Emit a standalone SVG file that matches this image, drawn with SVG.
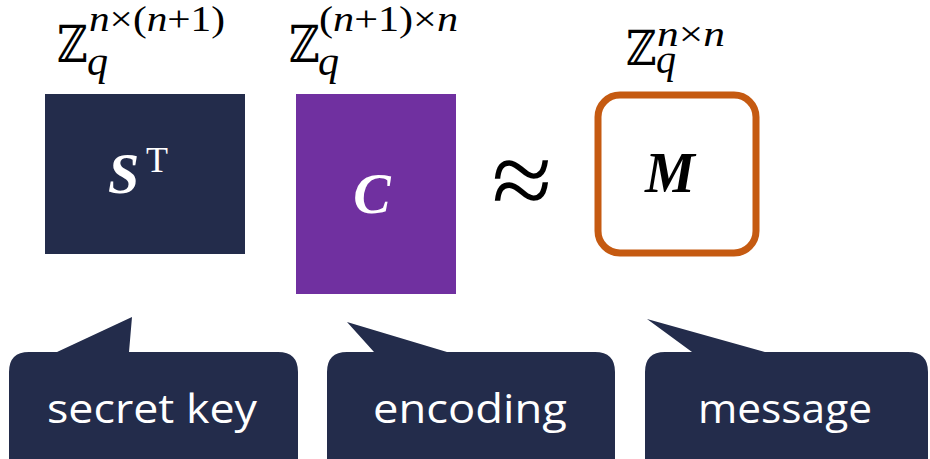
<svg xmlns="http://www.w3.org/2000/svg" width="930" height="459" viewBox="0 0 930 459">
<style>
.navy{fill:#232C4B}
.zz{font-family:"DejaVu Serif",serif;font-size:42px;fill:#000}
.mi{font-family:"Liberation Serif",serif;font-style:italic;fill:#000}
.mr{font-family:"Liberation Serif",serif;fill:#000}
.sup{font-size:35px}
.big{font-family:"Liberation Serif",serif;font-weight:bold;font-style:italic;font-size:56px}
.lbl{font-family:"Open Sans","Liberation Sans",sans-serif;font-size:41px;fill:#fff;text-anchor:middle}
</style>
<rect width="930" height="459" fill="#fff"/>
<g id="dim-s">
<text class="zz" transform="translate(57,62) scale(1,1.22)">ℤ</text>
<text class="mi" x="87" y="75" font-size="42">q</text>
<text class="sup" x="89" y="31" textLength="136" lengthAdjust="spacingAndGlyphs"><tspan class="mi">n</tspan><tspan class="mr">×(</tspan><tspan class="mi">n</tspan><tspan class="mr">+1)</tspan></text>
</g>
<g id="dim-c">
<text class="zz" transform="translate(289,62) scale(1,1.22)">ℤ</text>
<text class="mi" x="318" y="75" font-size="42">q</text>
<text class="sup" x="319" y="31" textLength="139" lengthAdjust="spacingAndGlyphs"><tspan class="mr">(</tspan><tspan class="mi">n</tspan><tspan class="mr">+1)×</tspan><tspan class="mi">n</tspan></text>
</g>
<g id="dim-m">
<text class="zz" transform="translate(626,65) scale(1,1.15)">ℤ</text>
<text class="mi" x="656" y="73" font-size="40">q</text>
<text class="sup" x="657" y="46" textLength="68" lengthAdjust="spacingAndGlyphs"><tspan class="mi">n</tspan><tspan class="mr">×</tspan><tspan class="mi">n</tspan></text>
</g>
<g id="node-s">
<rect class="navy" x="45" y="94" width="200" height="160"/>
<text class="big" x="108" y="193" fill="#fff">S</text>
<text x="146" y="172" font-family="Liberation Serif,serif" font-size="36" fill="#fff">T</text>
</g>
<g id="node-c">
<rect x="296" y="94" width="160" height="200" fill="#7030A0"/>
<text class="big" x="372" y="213" fill="#fff" text-anchor="middle">C</text>
</g>
<g id="approx">
<text x="522" y="217" font-family="Liberation Serif,serif" font-size="110" text-anchor="middle" fill="#000">≈</text>
</g>
<g id="node-m">
<rect x="598" y="95" width="158" height="158" rx="22" fill="#fff" stroke="#C55A11" stroke-width="7"/>
<text class="big" x="670" y="192" fill="#000" text-anchor="middle">M</text>
</g>
<g id="callout-secret">
<path class="navy" d="M29 352 L57 352 L132 317 L129 352 L278 352 Q298 352 298 372 L298 470 L9 470 L9 372 Q9 352 29 352 Z"/>
<text class="lbl" x="152" y="423" textLength="210" lengthAdjust="spacingAndGlyphs">secret key</text>
</g>
<g id="callout-encoding">
<path class="navy" d="M347 352 L374 352 L347 322 L447 352 L595 352 Q615 352 615 372 L615 470 L327 470 L327 372 Q327 352 347 352 Z"/>
<text class="lbl" x="470" y="423" textLength="194" lengthAdjust="spacingAndGlyphs">encoding</text>
</g>
<g id="callout-message">
<path class="navy" d="M665 352 L692 352 L647 319 L765 352 L908 352 Q928 352 928 372 L928 470 L645 470 L645 372 Q645 352 665 352 Z"/>
<text class="lbl" x="785" y="423" textLength="174" lengthAdjust="spacingAndGlyphs">message</text>
</g>
</svg>
